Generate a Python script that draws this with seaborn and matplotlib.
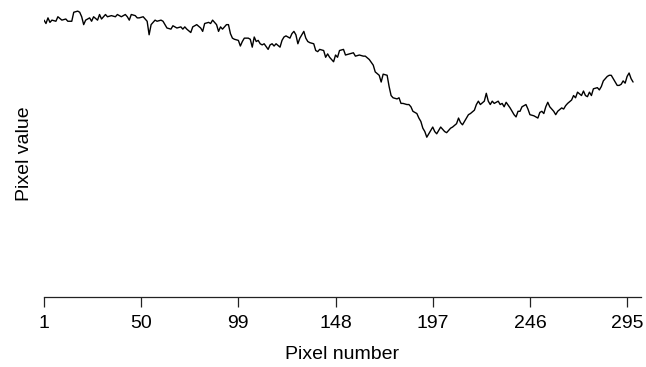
import matplotlib
matplotlib.use("Agg")
import matplotlib.pyplot as plt
import seaborn as sns
import pandas as pd

pixel_number = [1, 2, 3, 4, 5, 7, 8, 10, 12, 13, 15, 16, 18, 19, 20, 21, 22, 24, 25, 26,
                28, 29, 30, 32, 33, 35, 37, 38, 40, 42, 43, 44, 45, 47, 48, 49, 51, 53, 54, 55,
                57, 58, 60, 61, 63, 65, 66, 68, 70, 71, 72, 73, 75, 76, 78, 80, 81, 82, 84, 85,
                86, 88, 89, 90, 91, 93, 94, 95, 96, 97, 99, 100, 101, 102, 104, 105, 106, 107, 108, 109,
                110, 111, 112, 114, 115, 116, 117, 118, 120, 121, 122, 123, 125, 126, 127, 128, 129, 130, 132, 133,
                134, 135, 137, 138, 139, 140, 142, 143, 144, 145, 147, 148, 149, 150, 152, 153, 155, 157, 158, 160,
                162, 163, 165, 167, 168, 170, 171, 172, 174, 175, 176, 177, 179, 180, 181, 182, 184, 185, 186, 187,
                189, 190, 191, 192, 193, 194, 196, 197, 198, 199, 201, 202, 203, 204, 206, 207, 209, 210, 211, 212,
                214, 215, 216, 218, 219, 220, 221, 223, 224, 225, 226, 227, 228, 230, 231, 232, 233, 234, 236, 237,
                238, 239, 240, 241, 242, 244, 245, 246, 248, 250, 251, 252, 253, 254, 255, 256, 258, 259, 260, 262,
                263, 264, 265, 267, 268, 269, 270, 272, 273, 274, 275, 276, 277, 278, 280, 281, 282, 283, 285, 286,
                287, 288, 290, 291, 292, 293, 294, 295, 296, 297, 298]

pixel_value = [246, 243, 248, 244, 246, 245, 249, 246, 247, 245, 245, 253, 254, 253, 249, 242, 246, 248, 245, 249,
               246, 251, 247, 251, 249, 250, 249, 251, 249, 251, 249, 246, 251, 250, 248, 248, 249, 245, 233, 242,
               246, 245, 246, 245, 239, 238, 241, 239, 240, 238, 240, 238, 235, 240, 242, 239, 236, 243, 244, 243,
               246, 242, 236, 240, 238, 242, 242, 234, 230, 229, 228, 223, 227, 230, 230, 229, 222, 231, 227, 228,
               225, 224, 225, 220, 224, 225, 223, 225, 222, 228, 231, 232, 230, 234, 236, 233, 225, 230, 236, 230,
               227, 226, 225, 219, 218, 220, 219, 213, 216, 213, 209, 215, 213, 219, 220, 215, 216, 217, 214, 215,
               214, 214, 211, 206, 200, 197, 191, 198, 197, 187, 179, 177, 176, 177, 172, 172, 171, 171, 169, 165,
               163, 159, 156, 150, 147, 142, 148, 151, 147, 145, 151, 149, 147, 146, 150, 151, 154, 159, 155, 153,
               159, 162, 163, 166, 171, 174, 171, 174, 181, 174, 171, 174, 172, 174, 171, 172, 169, 173, 168, 165,
               162, 160, 165, 165, 169, 171, 167, 162, 161, 159, 164, 165, 163, 169, 173, 169, 165, 162, 165, 168,
               167, 170, 172, 175, 179, 177, 182, 179, 183, 179, 178, 182, 179, 185, 186, 184, 187, 192, 196, 197,
               197, 194, 188, 188, 189, 192, 190, 196, 199, 194, 191]

x_ticks = [1, 50, 99, 148, 197, 246, 295]

df = pd.DataFrame({"Pixel number": pixel_number, "Pixel value": pixel_value})

sns.set_style("white")
plt.rcParams["font.family"] = ["Liberation Sans", "DejaVu Sans"]

fig = plt.figure(figsize=(6.46, 3.67), dpi=100)
ax = fig.add_axes([44 / 646, 70 / 367, (641 - 44) / 646, (297 - 10) / 367])

sns.lineplot(data=df, x="Pixel number", y="Pixel value", ax=ax,
             color="black", linewidth=1.0, estimator=None)

ax.set_xlim(1, 302)
ax.set_ylim(0, 255)
ax.set_xticks(x_ticks)
ax.set_xticklabels([str(t) for t in x_ticks], fontsize=14, color="black")
ax.set_yticks([])
ax.tick_params(axis="x", length=7, width=0.9, color="#222222", pad=6, bottom=True)

for side in ["top", "right", "left"]:
    ax.spines[side].set_visible(False)
ax.spines["bottom"].set_color("#222222")
ax.spines["bottom"].set_linewidth(0.9)

ax.set_xlabel("Pixel number", fontsize=14, labelpad=10, color="black")
ax.set_ylabel("Pixel value", fontsize=14, labelpad=8, color="black")

fig.savefig("out.png", dpi=100)
